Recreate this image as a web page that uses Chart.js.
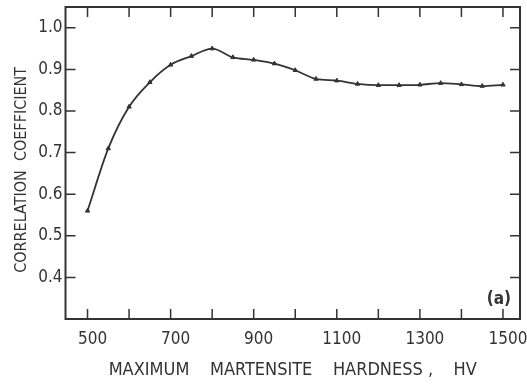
<!DOCTYPE html>
<html>
<head>
<meta charset="utf-8">
<script src="https://cdn.jsdelivr.net/npm/chart.js@4.4.0/dist/chart.umd.min.js"></script>
<style>
  html, body { margin: 0; padding: 0; background: #fff; }
  #wrap { width: 527px; height: 386px; }
</style>
</head>
<body>
<div id="wrap"><canvas id="myChart" width="527" height="386"></canvas></div>
<script>
// hardness (HV) and correlation coefficient
const hardness = [500, 550, 600, 650, 700, 750, 800, 850, 900, 950, 1000,
                  1050, 1100, 1150, 1200, 1250, 1300, 1350, 1400, 1450, 1500];
const corr = [0.560, 0.710, 0.810, 0.869, 0.911, 0.932, 0.950, 0.929, 0.923, 0.914, 0.898,
              0.877, 0.873, 0.865, 0.862, 0.862, 0.863, 0.867, 0.864, 0.860, 0.863];
const xTicks = [500, 600, 700, 800, 900, 1000, 1100, 1200, 1300, 1400, 1500];
const xLabels = [500, 700, 900, 1100, 1300, 1500];
const yTicks = [0.4, 0.5, 0.6, 0.7, 0.8, 0.9, 1.0];

const ink = '#333';
const fontFam = "'Liberation Sans Narrow', 'DejaVu Sans Condensed', sans-serif";

// inward ticks on all four sides plus the "(a)" tag
const frameTicks = {
  id: 'frameTicks',
  afterDraw(chart) {
    const c = chart.ctx, a = chart.chartArea;
    const x = chart.scales.x, y = chart.scales.y;
    c.save();
    c.strokeStyle = ink;
    c.lineWidth = 1.5;
    c.beginPath();
    xTicks.forEach(v => {
      const px = x.getPixelForValue(v);
      c.moveTo(px, a.bottom); c.lineTo(px, a.bottom - 10);
      c.moveTo(px, a.top); c.lineTo(px, a.top + 10);
    });
    yTicks.forEach(v => {
      const py = y.getPixelForValue(v);
      c.moveTo(a.left, py); c.lineTo(a.left + 10, py);
      c.moveTo(a.right, py); c.lineTo(a.right - 10, py);
    });
    c.stroke();
    c.lineWidth = 2;
    c.strokeRect(a.left, a.top, a.right - a.left, a.bottom - a.top);
    c.fillStyle = ink;
    c.font = "bold 17px " + fontFam;
    c.textAlign = 'right';
    c.textBaseline = 'alphabetic';
    c.fillText('(a)', a.right - 9, a.bottom - 15);
    c.restore();
  }
};

// drop the extra room Chart.js keeps for end labels
const noEdgePad = s => { s.paddingTop = 0; s.paddingBottom = 0; s.paddingLeft = 0; s.paddingRight = 0; };

const ctx = document.getElementById('myChart').getContext('2d');
new Chart(ctx, {
  type: 'line',
  data: {
    datasets: [{
      data: hardness.map((h, i) => ({ x: h, y: corr[i] })),
      borderColor: ink,
      backgroundColor: ink,
      borderWidth: 1.8,
      pointStyle: 'triangle',
      pointRadius: 2.5,
      pointBorderWidth: 1,
      cubicInterpolationMode: 'monotone',
      fill: false,
      clip: false
    }]
  },
  options: {
    responsive: false,
    animation: false,
    layout: { padding: { left: 3, right: 7, top: 7, bottom: 0 } },
    plugins: { legend: { display: false }, tooltip: { enabled: false } },
    scales: {
      x: {
        type: 'linear',
        min: 447,
        max: 1541,
        afterBuildTicks: s => { s.ticks = xTicks.map(v => ({ value: v })); },
        afterFit: noEdgePad,
        grid: { display: false, drawTicks: false },
        border: { display: false },
        ticks: {
          color: ink,
          padding: 10,
          labelOffset: 5,
          maxRotation: 0,
          autoSkip: false,
          font: { family: fontFam, size: 17 },
          callback: v => xLabels.includes(v) ? String(v) : ''
        },
        title: {
          display: true,
          text: 'MAXIMUM    MARTENSITE    HARDNESS ,    HV',
          color: ink,
          font: { family: fontFam, size: 18 },
          padding: { top: 0, bottom: 5 }
        }
      },
      y: {
        min: 0.3,
        max: 1.05,
        afterBuildTicks: s => { s.ticks = yTicks.map(v => ({ value: v })); },
        afterFit: noEdgePad,
        grid: { display: false, drawTicks: false },
        border: { display: false },
        ticks: {
          color: ink,
          padding: 3,
          font: { family: fontFam, size: 17 },
          callback: v => v.toFixed(1)
        },
        title: {
          display: true,
          text: 'CORRELATION  COEFFICIENT   ',
          color: ink,
          font: { family: fontFam, size: 16 },
          padding: { top: 9, bottom: 4 }
        }
      }
    }
  },
  plugins: [frameTicks]
});
</script>
</body>
</html>
